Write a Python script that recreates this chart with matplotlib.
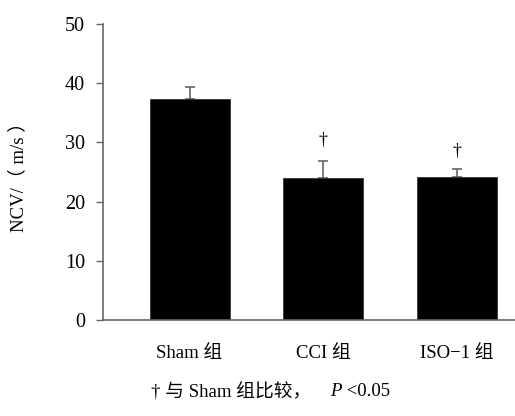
import matplotlib
matplotlib.use("Agg")
import matplotlib.pyplot as plt

# data
groups = ["Sham 组", "CCI 组", "ISO−1 组"]
ncv = [37.3, 23.9, 24.2]
ncv_sd = [2.0, 3.0, 1.3]
marks = ["", "†", "†"]
mark_y = [0, 30.4, 28.6]

serif = ["Liberation Serif", "Noto Sans CJK SC"]
axis_col = "#666666"

fig = plt.figure(figsize=(5.15, 4.16), dpi=100)
ax = fig.add_axes([103 / 515, 1 - 320 / 416, 1 - 103 / 515, (320 - 23.8) / 416])

x = list(range(len(groups)))
ax.bar(x, ncv, width=0.6, color="black", edgecolor="#333333", linewidth=0.6, zorder=2)
ax.errorbar(x, ncv, yerr=[[0] * len(ncv_sd), ncv_sd], fmt="none",
            ecolor=axis_col, elinewidth=1.2, capsize=3.6, capthick=1.2, zorder=1)
for xi, m, my in zip(x, marks, mark_y):
    if m:
        ax.text(xi, my, m, ha="center", va="center", fontsize=13, family=serif)

ax.set_xlim(-0.648, 2.434)
ax.set_ylim(0, 50)
ax.set_yticks([0, 10, 20, 30, 40, 50])
ax.set_xticks(x)
ax.set_xticklabels(groups, family=serif, fontsize=13.5)
ax.tick_params(axis="x", length=0, pad=18)
ax.tick_params(axis="y", length=5, width=1, color=axis_col, labelsize=14.5, pad=8)
for lab in ax.get_yticklabels():
    lab.set_family(serif)

for s in ["top", "right"]:
    ax.spines[s].set_visible(False)
for s in ["left", "bottom"]:
    ax.spines[s].set_color(axis_col)
    ax.spines[s].set_linewidth(1.2)

fig.text(18 / 515, 1 - 172 / 416, "NCV/（ m/s ）", rotation=90, ha="center", va="center",
         fontsize=13.5, family=serif)

# caption: plain part, italic P, then the rest, placed one after another
cap_y = 1 - 392 / 416
parts = [("† 与 Sham 组比较，\u3000", "normal"), ("P", "italic"), (" <0.05", "normal")]
renderer = fig.canvas.get_renderer()
texts = []
for s, st in parts:
    t = fig.text(0, cap_y, s, ha="left", va="center", fontsize=13.5, family=serif, style=st)
    texts.append(t)
widths = [t.get_window_extent(renderer).width for t in texts]
x0 = 151
for t, w in zip(texts, widths):
    t.set_x(x0 / 515)
    x0 += w

fig.savefig("out.png", dpi=100)
